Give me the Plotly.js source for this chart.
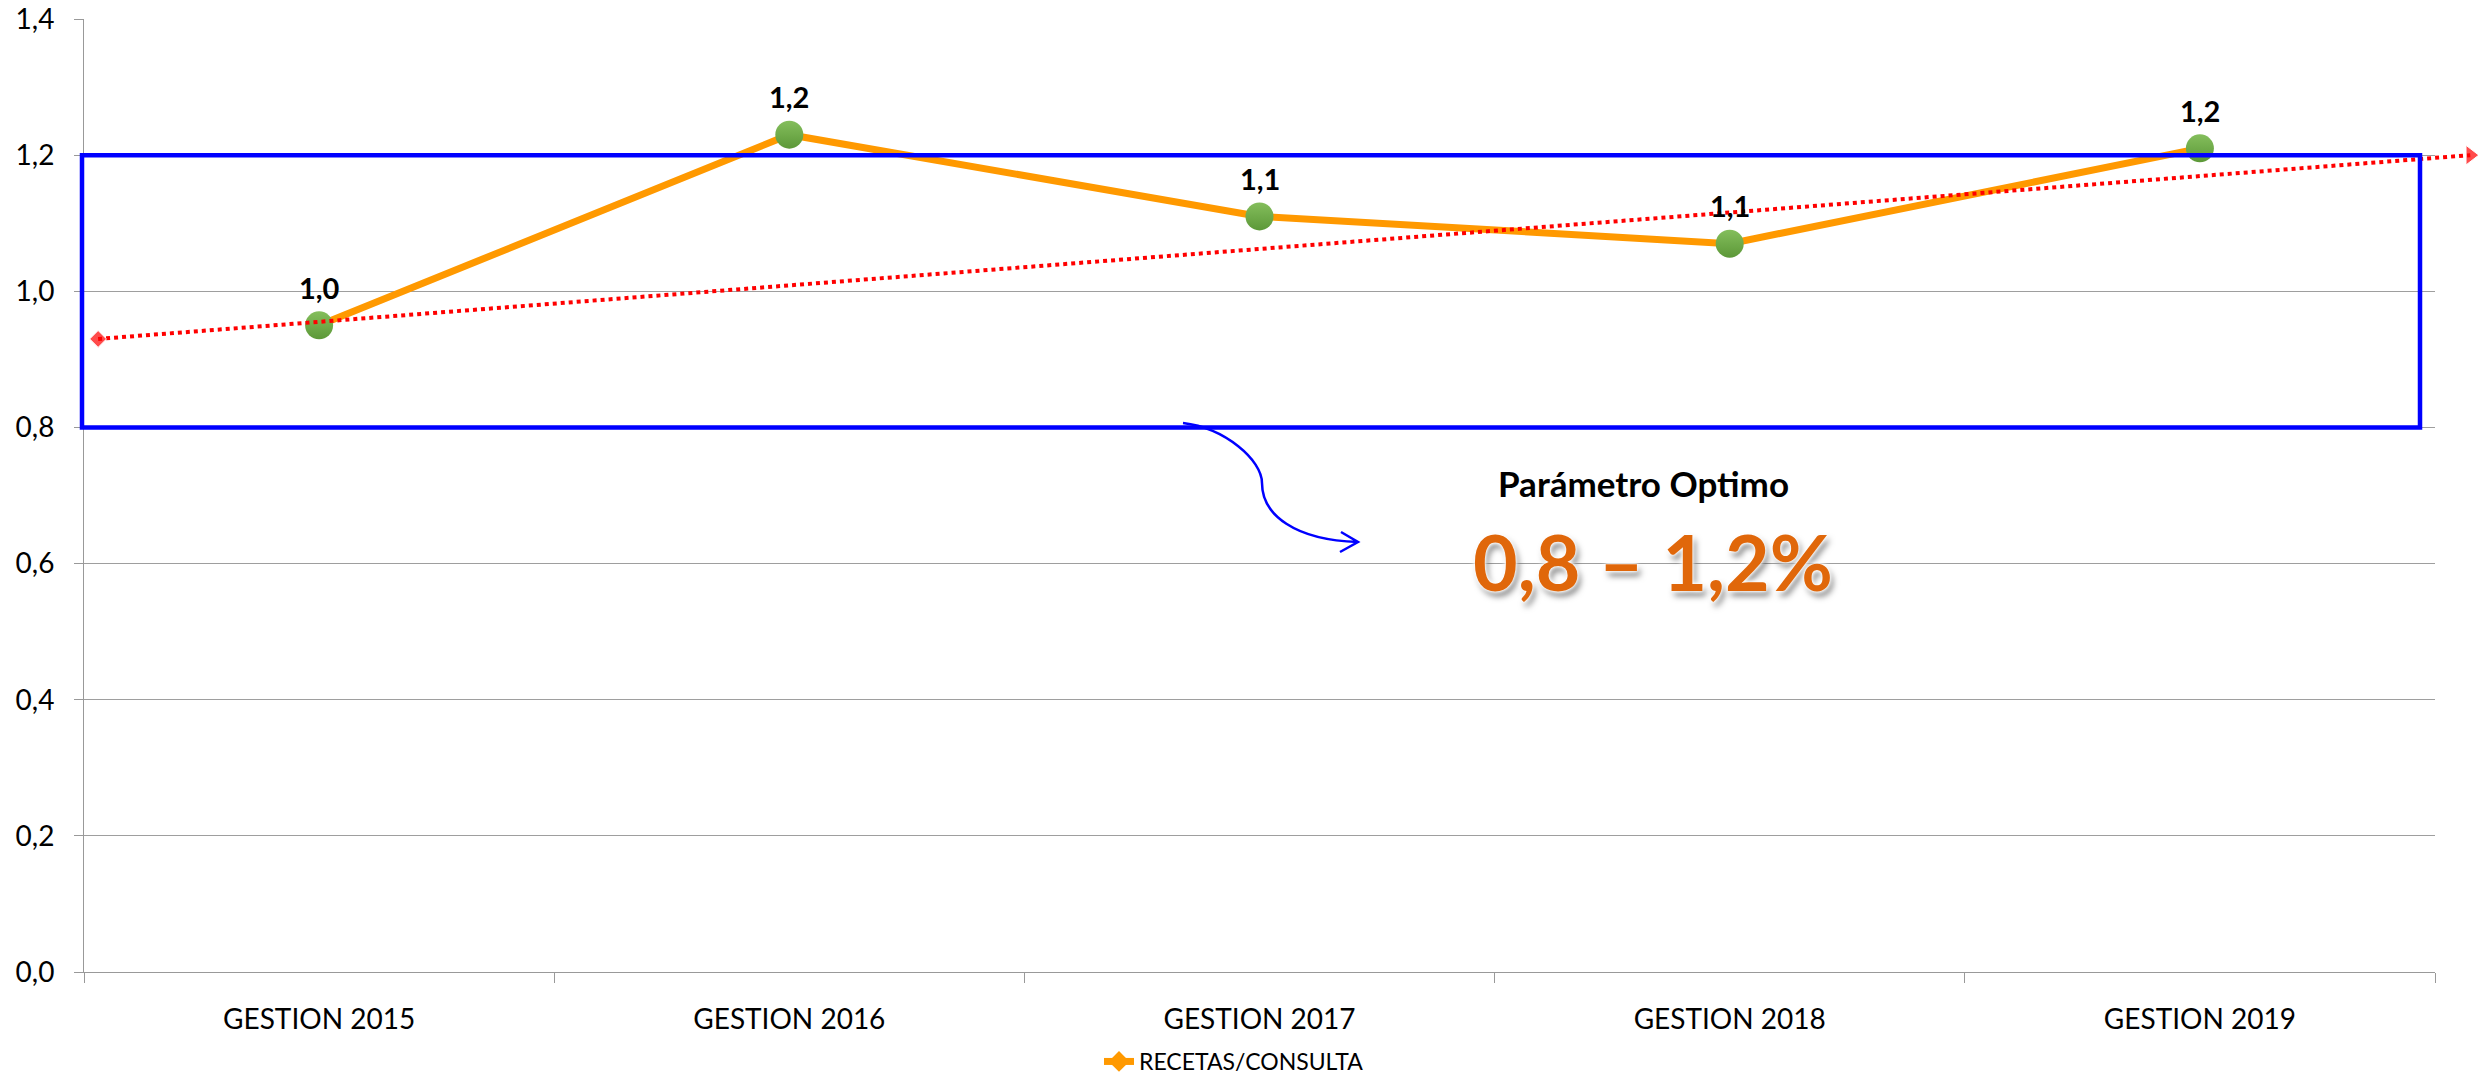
<!DOCTYPE html>
<html>
<head>
<meta charset="utf-8">
<script src="https://cdn.plot.ly/plotly-3.0.1.min.js"></script>
<style>
  html, body { margin: 0; padding: 0; background: #fff; }
  #chart { width: 2478px; height: 1085px; }
</style>
</head>
<body>
<div id="chart"></div>
<script>
// ---- data ----
const categories = ['GESTION 2015', 'GESTION 2016', 'GESTION 2017', 'GESTION 2018', 'GESTION 2019'];
const catIndex = [0, 1, 2, 3, 4];
const recetas = [0.95, 1.23, 1.11, 1.07, 1.21];
const dataLabels = ['1,0', '1,2', '1,1', '1,1', '1,2'];
const trendX = [-0.47, 4.575];
const trendY = [0.93, 1.20];
const optimo = [0.8, 1.2];
const seriesName = 'RECETAS/CONSULTA';

// ---- geometry (layout only) ----
const W = 2478, H = 1085;
const L = 60, R = 0, T = 19, B = 113;
const plotL = 84, plotR = 2435, plotB = H - B;
const paperW = W - L - R;
const unit = (plotR - plotL) / categories.length;
const yUnit = (plotB - T) / 1.4;
const xDomain = [(plotL - L) / paperW, (plotR - L) / paperW];
const xRange = [-0.5, categories.length - 0.5];
const x2Range = [xRange[0] - (plotL - L) / unit, xRange[1] + (W - R - plotR) / unit];
const boundaries = catIndex.map(i => i - 0.5).concat([categories.length - 0.5]);
const fmt = v => v.toFixed(1).replace('.', ',');
// decoration placement helpers (pixel -> axis units)
const px2x = p => xRange[0] + (p - plotL) / unit;
const px2y = p => (plotB - p) / yUnit;
const P = (a, b) => px2x(a).toFixed(4) + ',' + px2y(b).toFixed(4);

const FONT = 'Lato, "Open Sans", sans-serif';

const traces = [
  {
    type: 'scatter', mode: 'lines+markers', name: seriesName,
    x: catIndex, y: recetas, xaxis: 'x', yaxis: 'y',
    line: { color: '#FF9900', width: 7 },
    marker: { symbol: 'diamond', size: 20, color: '#FF9900' },
    hoverinfo: 'skip'
  },
  {
    type: 'scatter', mode: 'markers', showlegend: false,
    x: catIndex, y: recetas, xaxis: 'x', yaxis: 'y',
    marker: { size: 28, color: '#84BE5C', gradient: { type: 'vertical', color: '#5C9838' }, line: { width: 0 } },
    cliponaxis: false, hoverinfo: 'skip'
  },
  {
    type: 'scatter', mode: 'lines+markers', showlegend: false,
    x: trendX, y: trendY, xaxis: 'x2', yaxis: 'y2',
    line: { color: '#FF0000', width: 4, dash: 'dot' },
    marker: { symbol: ['diamond', 'triangle-right'], size: [13, 17], color: '#FF0000' },
    cliponaxis: false, hoverinfo: 'skip'
  }
];

const annotations = catIndex.map((xi, i) => ({
  x: xi, y: recetas[i], xref: 'x', yref: 'y', yshift: 38,
  text: '<b>' + dataLabels[i] + '</b>', showarrow: false,
  font: { family: FONT, size: 29, color: '#000' }
}));
annotations.push({
  x: px2x(1643), y: px2y(483), xref: 'x', yref: 'y', showarrow: false,
  text: '<b>Parámetro Optimo</b>',
  font: { family: FONT, size: 35, color: '#000' }
});
annotations.push({
  x: px2x(1653), y: px2y(561), xref: 'x', yref: 'y', showarrow: false,
  text: '<b>' + fmt(optimo[0]) + ' – ' + fmt(optimo[1]) + '%</b>',
  font: { family: FONT, size: 77, color: '#E0670A',
          shadow: '0 0 2px #fff, 0 0 4px #fff, 0 0 6px #fff, 3px 5px 6px rgba(0,0,0,0.5)' }
});

const arrowPath =
  'M ' + P(1183, 423) +
  ' C ' + P(1225, 428) + ' ' + P(1262, 460) + ' ' + P(1262, 483) +
  ' C ' + P(1262, 515) + ' ' + P(1295, 540) + ' ' + P(1358, 542) +
  ' M ' + P(1341, 532) + ' L ' + P(1358, 542) + ' L ' + P(1340, 552);

const shapes = [
  {
    type: 'rect', xref: 'x2', yref: 'y2', layer: 'above',
    x0: px2x(82), x1: px2x(2420), y0: optimo[0], y1: optimo[1],
    line: { color: '#0000FF', width: 4.5 }, fillcolor: 'rgba(0,0,0,0)'
  },
  {
    type: 'path', xref: 'x', yref: 'y', layer: 'above',
    path: arrowPath,
    line: { color: '#0000FF', width: 2.5 }
  }
];

const layout = {
  width: W, height: H,
  margin: { l: L, r: R, t: T, b: B, autoexpand: false },
  paper_bgcolor: '#ffffff',
  plot_bgcolor: 'rgba(0,0,0,0)',
  separators: ',.',
  showlegend: true,
  font: { family: FONT, color: '#000' },
  xaxis: {
    domain: xDomain, anchor: 'y', range: xRange, fixedrange: true,
    tickmode: 'array', tickvals: catIndex, ticktext: categories,
    ticks: '', showgrid: false, zeroline: false,
    showline: true, linecolor: '#999999', linewidth: 1,
    tickfont: { family: FONT, size: 28, color: '#000' },
    ticklabelstandoff: 22,
    minor: { tickmode: 'array', tickvals: boundaries, ticks: 'outside', ticklen: 10, tickwidth: 1, tickcolor: '#999999', showgrid: false },
    automargin: false
  },
  yaxis: {
    domain: [0, 1], anchor: 'x', range: [0, 1.4], fixedrange: true,
    tick0: 0, dtick: 0.2, tickformat: '.1f',
    showgrid: true, gridcolor: '#9e9e9e', gridwidth: 1,
    zeroline: false, showline: true, linecolor: '#999999', linewidth: 1,
    ticks: 'outside', ticklen: 9, tickwidth: 1, tickcolor: '#999999',
    tickfont: { family: FONT, size: 28, color: '#000' },
    ticklabelstandoff: 14,
    automargin: false
  },
  xaxis2: { domain: [0, 1], anchor: 'y2', range: x2Range, visible: false, fixedrange: true },
  yaxis2: { domain: [0, 1], anchor: 'x2', range: [0, 1.4], visible: false, fixedrange: true },
  legend: {
    orientation: 'h', x: (1234 - L) / paperW, xanchor: 'center',
    y: -(H - 2 - plotB) / (plotB - T), yanchor: 'bottom',
    font: { family: FONT, size: 23, color: '#000' },
    bgcolor: 'rgba(0,0,0,0)'
  },
  annotations: annotations,
  shapes: shapes
};

Plotly.newPlot('chart', traces, layout, { staticPlot: true, displayModeBar: false });
</script>
</body>
</html>
